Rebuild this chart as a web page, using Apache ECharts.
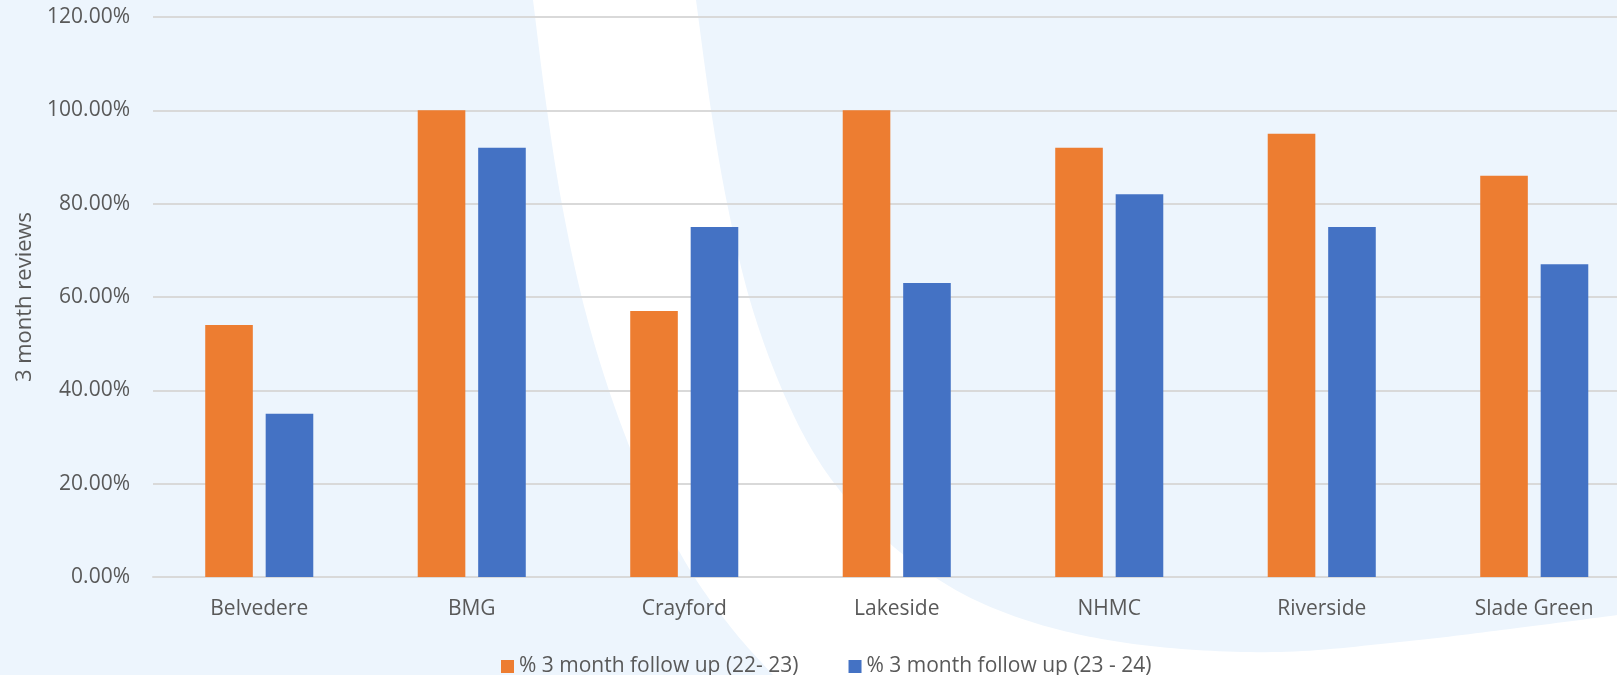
<!DOCTYPE html>
<html>
<head>
<meta charset="utf-8">
<title>3 month reviews</title>
<script src="https://cdn.jsdelivr.net/npm/echarts@6/dist/echarts.min.js"></script>
<style>
  html, body { margin: 0; padding: 0; background: #EDF5FD; }
  #chart { width: 1617px; height: 675px; }
</style>
</head>
<body>
<div id="chart"></div>
<script>
// Practices along the category axis
const categories = ['Belvedere', 'BMG', 'Crayford', 'Lakeside', 'NHMC', 'Riverside', 'Slade Green'];

// Share of 3 month follow ups completed (%)
const followUp2223 = [54, 100, 57, 100, 92, 95, 86];
const followUp2324 = [35, 92, 75, 63, 82, 75, 67];

const seriesNames = ['% 3 month follow up (22- 23)', '% 3 month follow up (23 - 24)'];

// Value axis ticks
const yMin = 0, yMax = 120, yStep = 20;

const FONT = '"Open Sans", "Noto Sans", sans-serif';
const TEXT = '#595959';
const GRID_LINE = '#D9D9D9';

// Decorative white swoosh in the background (pixel outline points)
const swooshRight = [[696,0],[711,110],[727,203],[749,297],[778,380],[812,450],[852,505],[905,556],[975,600],[1060,630],[1160,647],[1280,652],[1400,642],[1510,629],[1625,614]];
const swooshLeft = [[773,675],[733,630],[690,570],[648,490],[614,405],[585,310],[563,210],[547,110],[533,0]];

function catmullRom(pts, steps) {
  const out = [];
  for (let i = 0; i < pts.length - 1; i++) {
    const p0 = pts[Math.max(i - 1, 0)], p1 = pts[i], p2 = pts[i + 1], p3 = pts[Math.min(i + 2, pts.length - 1)];
    for (let s = 0; s < steps; s++) {
      const t = s / steps, t2 = t * t, t3 = t2 * t;
      const f = (a, b, c, d) => 0.5 * ((2 * b) + (-a + c) * t + (2 * a - 5 * b + 4 * c - d) * t2 + (-a + 3 * b - 3 * c + d) * t3);
      out.push([f(p0[0], p1[0], p2[0], p3[0]), f(p0[1], p1[1], p2[1], p3[1])]);
    }
  }
  out.push(pts[pts.length - 1]);
  return out;
}

const swoosh = [].concat(
  catmullRom(swooshRight, 16),
  [[1625, 680], [776, 680]],
  catmullRom(swooshLeft, 16)
);

const chart = echarts.init(document.getElementById('chart'), null, { renderer: 'canvas' });

chart.setOption({
  backgroundColor: '#EDF5FD',
  animation: false,
  textStyle: { fontFamily: FONT },
  graphic: [{
    type: 'polygon',
    silent: true,
    z: -10,
    shape: { points: swoosh },
    style: { fill: '#FFFFFF' }
  }],
  grid: { left: 153, top: 17, width: 1487.5, height: 560, outerBoundsMode: 'none', containLabel: false },
  legend: {
    left: 496,
    top: 651,
    itemWidth: 13,
    itemHeight: 13,
    itemGap: 50,
    icon: 'rect',
    textStyle: { fontSize: 21, color: TEXT, fontFamily: FONT },
    data: seriesNames
  },
  xAxis: {
    type: 'category',
    data: categories,
    axisLine: { show: true, lineStyle: { color: GRID_LINE, width: 2 } },
    axisTick: { show: false },
    axisLabel: { color: TEXT, fontSize: 21, fontFamily: FONT, margin: 22 }
  },
  yAxis: {
    type: 'value',
    min: yMin,
    max: yMax,
    interval: yStep,
    name: '3 month reviews',
    nameLocation: 'middle',
    nameGap: 116,
    nameTextStyle: { color: TEXT, fontSize: 22, fontFamily: FONT },
    axisLine: { show: false },
    axisTick: { show: false },
    splitLine: { lineStyle: { color: GRID_LINE, width: 2 } },
    axisLabel: {
      color: TEXT, fontSize: 21, fontFamily: FONT, margin: 23,
      formatter: v => v.toFixed(2) + '%'
    }
  },
  series: [
    {
      name: seriesNames[0],
      type: 'bar',
      data: followUp2223,
      barWidth: '22.4%',
      barGap: '27%',
      itemStyle: { color: '#ED7D31' }
    },
    {
      name: seriesNames[1],
      type: 'bar',
      data: followUp2324,
      barWidth: '22.4%',
      barGap: '27%',
      itemStyle: { color: '#4472C4' }
    }
  ]
});
</script>
</body>
</html>
